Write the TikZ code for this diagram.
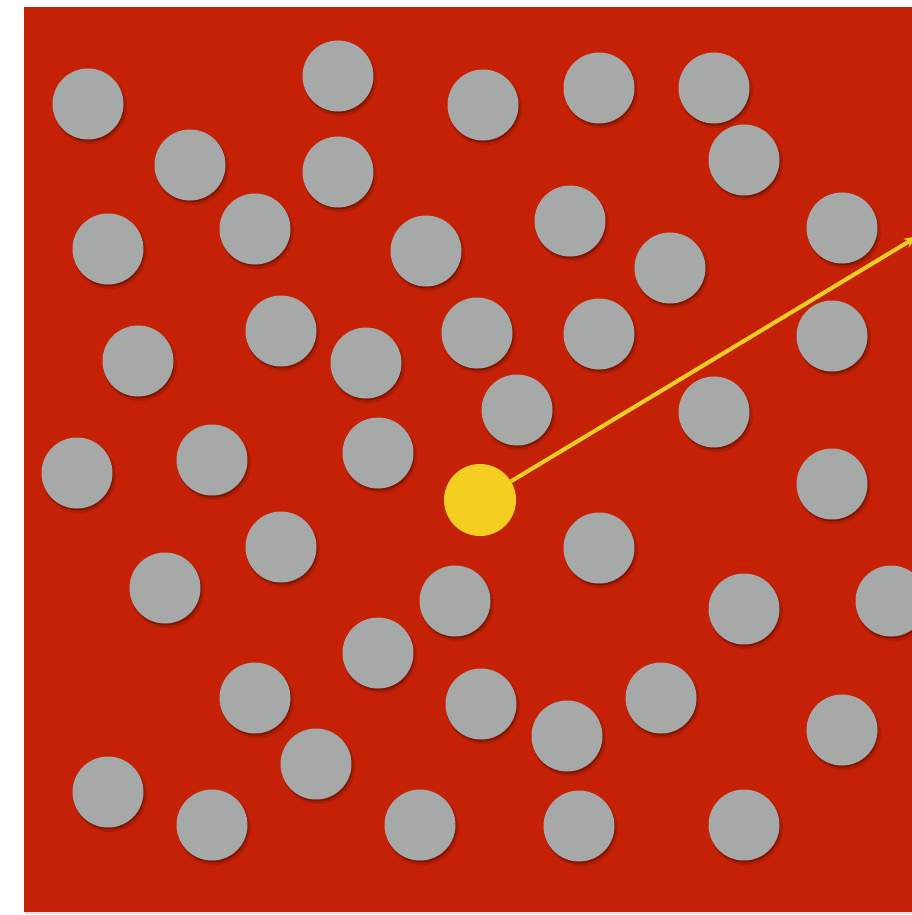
\documentclass[tikz,border=0pt]{standalone}
\usepackage{tikz}
\usetikzlibrary{arrows.meta, shadows}
\definecolor{boardred}{HTML}{C52106}
\definecolor{discgray}{HTML}{A6A9A8}
\definecolor{probeyellow}{HTML}{F5CE22}
\tikzset{
  disc/.style={
    circle,
    fill=discgray,
    inner sep=0pt,
    minimum size=71pt,
    general shadow={shadow xshift=2pt, shadow yshift=-3pt, shadow scale=1.04, fill=black, opacity=0.12},
    drop shadow={shadow xshift=1pt, shadow yshift=-2pt, fill=black, opacity=0.25}
  },
  probe/.style={
    circle,
    fill=probeyellow,
    inner sep=0pt,
    minimum size=72pt
  },
  probe ray/.style={
    -{Stealth[length=14pt, width=10pt]},
    line width=4pt,
    color=probeyellow
  }
}

\begin{document}
\begin{tikzpicture}[x=1pt, y=-1pt]
    % Seite und Ausschnitt
    \useasboundingbox (0, 0) rectangle (912, 915);
    \fill[white] (0, 0) rectangle (912, 915);
    \clip (0, 0) rectangle (912, 915);

    % Spielfeld
    \fill[black!20, opacity=0.6] (25, 9) rectangle (915, 914);
    \fill[boardred] (24, 7) rectangle (915, 912);

    % graue Scheiben
    \foreach \x/\y [count=\i] in {
        88/104, 338/76, 483/105, 599/88, 714/88,
        190/165, 338/172, 744/160,
        108/249, 255/229, 426/251, 570/221, 670/268, 842/228,
        138/361, 281/331, 366/363, 477/333, 599/334, 832/336,
        517/410, 714/412,
        77/473, 212/460, 378/453, 832/484,
        281/547, 599/548,
        165/588, 455/601, 744/609, 891/601,
        378/653,
        255/698, 481/704, 661/698, 567/736, 842/730,
        316/764,
        108/792, 212/825, 420/825, 579/826, 744/825} {
      \node[disc] (d\i) at (\x, \y) {};
    }

    % gelbe Scheibe mit Strahl
    \node[probe] (p) at (480, 500) {};
    \coordinate (t) at (918, 236);
    \draw[probe ray] (p) -- (t);

  \end{tikzpicture}
\end{document}
